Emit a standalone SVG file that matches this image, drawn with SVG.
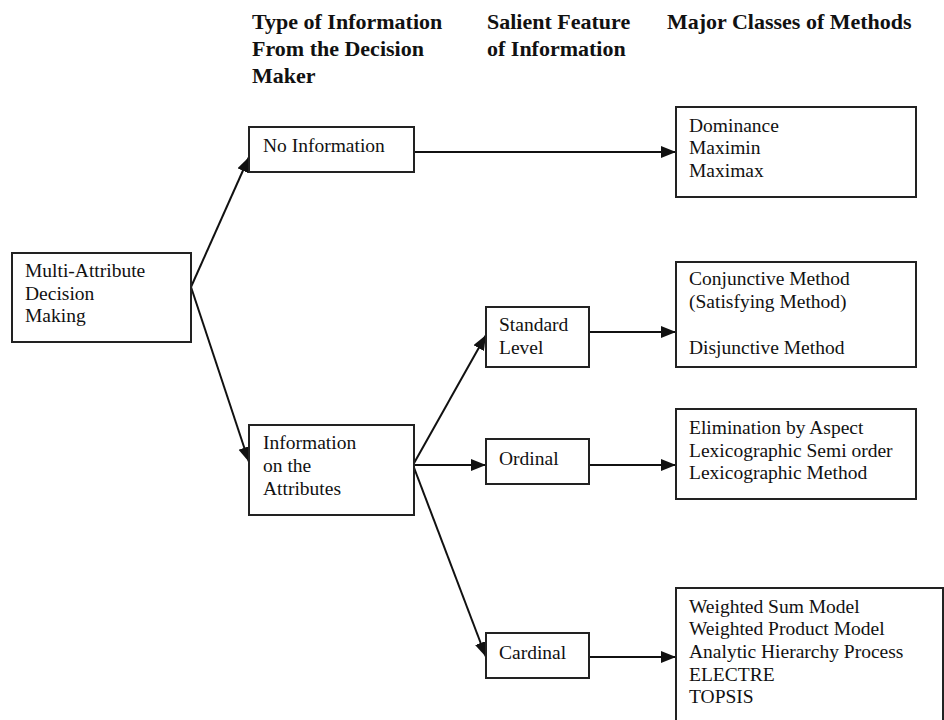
<svg xmlns="http://www.w3.org/2000/svg" width="944" height="720" viewBox="0 0 944 720">
<style>
.box{fill:#fff;stroke:#222;stroke-width:2}
.t{font-family:"Liberation Serif","Times New Roman",serif;font-size:19.5px;fill:#111}
.h{font-family:"Liberation Serif","Times New Roman",serif;font-size:22px;font-weight:bold;fill:#111}
.c{stroke:#111;stroke-width:2;fill:none;marker-end:url(#ah)}
</style>
<defs>
<marker id="ah" markerUnits="userSpaceOnUse" markerWidth="16" markerHeight="14" refX="15" refY="6" orient="auto">
<path d="M0,0 L15,6 L0,12 z" fill="#111"/>
</marker>
</defs>
<rect width="944" height="720" fill="#fff"/>
<g id="headers">
<text class="h" x="252" y="29">Type of Information</text>
<text class="h" x="252" y="56">From the Decision</text>
<text class="h" x="252" y="83">Maker</text>
<text class="h" x="487" y="29">Salient Feature</text>
<text class="h" x="487" y="56">of Information</text>
<text class="h" x="667" y="29">Major Classes of Methods</text>
</g>
<g id="connectors">
<line class="c" x1="191" y1="287" x2="249" y2="157"/>
<line class="c" x1="191" y1="287" x2="249" y2="462"/>
<line class="c" x1="414" y1="152" x2="676" y2="152"/>
<line class="c" x1="413" y1="465" x2="486" y2="335"/>
<line class="c" x1="413" y1="465" x2="486" y2="465"/>
<line class="c" x1="413" y1="465" x2="486" y2="657"/>
<line class="c" x1="589" y1="332" x2="676" y2="332"/>
<line class="c" x1="589" y1="465" x2="676" y2="465"/>
<line class="c" x1="589" y1="657" x2="676" y2="657"/>
</g>
<g id="madm">
<rect class="box" x="12" y="253" width="179" height="89"/>
<text class="t" x="25" y="277">Multi-Attribute</text>
<text class="t" x="25" y="300">Decision</text>
<text class="t" x="25" y="322">Making</text>
</g>
<g id="no-info">
<rect class="box" x="249" y="127" width="165" height="45"/>
<text class="t" x="263" y="152">No Information</text>
</g>
<g id="info-attr">
<rect class="box" x="249" y="425" width="165" height="90"/>
<text class="t" x="263" y="449">Information</text>
<text class="t" x="263" y="472">on the</text>
<text class="t" x="263" y="495">Attributes</text>
</g>
<g id="standard">
<rect class="box" x="486" y="307" width="103" height="60"/>
<text class="t" x="499" y="331">Standard</text>
<text class="t" x="499" y="354">Level</text>
</g>
<g id="ordinal">
<rect class="box" x="486" y="439" width="103" height="45"/>
<text class="t" x="499" y="465">Ordinal</text>
</g>
<g id="cardinal">
<rect class="box" x="486" y="633" width="103" height="45"/>
<text class="t" x="499" y="659">Cardinal</text>
</g>
<g id="dominance">
<rect class="box" x="676" y="107" width="240" height="90"/>
<text class="t" x="689" y="132">Dominance</text>
<text class="t" x="689" y="154">Maximin</text>
<text class="t" x="689" y="177">Maximax</text>
</g>
<g id="conjunctive">
<rect class="box" x="676" y="262" width="240" height="105"/>
<text class="t" x="689" y="285">Conjunctive Method</text>
<text class="t" x="689" y="308">(Satisfying Method)</text>
<text class="t" x="689" y="354">Disjunctive Method</text>
</g>
<g id="elimination">
<rect class="box" x="676" y="409" width="240" height="90"/>
<text class="t" x="689" y="434">Elimination by Aspect</text>
<text class="t" x="689" y="457">Lexicographic Semi order</text>
<text class="t" x="689" y="479">Lexicographic Method</text>
</g>
<g id="weighted">
<rect class="box" x="676" y="588" width="267" height="140"/>
<text class="t" x="689" y="613">Weighted Sum Model</text>
<text class="t" x="689" y="635">Weighted Product Model</text>
<text class="t" x="689" y="658">Analytic Hierarchy Process</text>
<text class="t" x="689" y="681">ELECTRE</text>
<text class="t" x="689" y="703">TOPSIS</text>
</g>
</svg>
